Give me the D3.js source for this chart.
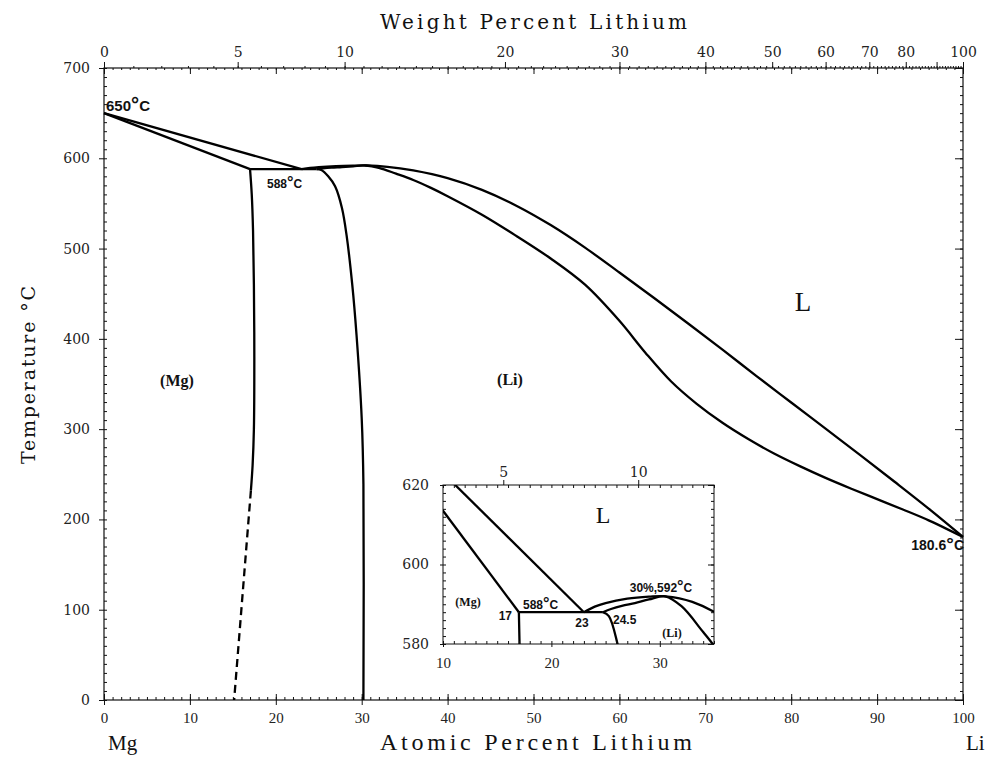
<!DOCTYPE html>
<html>
<head>
<meta charset="utf-8">
<script src="https://cdn.jsdelivr.net/npm/d3@7"></script>
<style>
  body { margin: 0; background: #fff; }
  svg { display: block; }
  .ax text { font-family: "DejaVu Serif", serif; fill: #222; }
  .ax path.domain { display: none; }
  .ax line { stroke: #111; stroke-width: 1; }
  .curve { fill: none; stroke: #000; stroke-width: 2.3; stroke-linejoin: round; }
  .lbl { font-family: "Liberation Sans", sans-serif; font-weight: bold; fill: #111; }
  .phase { font-family: "Liberation Serif", serif; font-weight: bold; fill: #111; }
  .ttl { font-family: "Liberation Serif", serif; fill: #111; }
</style>
</head>
<body>
<div id="chart"></div>
<script>
// Mg-Li phase diagram, x = atomic % Li, y = temperature in C
var liqMg = [[0, 650], [23, 588]];
var solMg = [[0, 650], [17, 588]];
var eutectic = [[17, 588], [24.75, 588]];
var liqLi = [[23, 588], [24, 589.4], [25, 590.3], [27, 591.4], [29, 591.9], [30.5, 592], [33, 590.6],
  [36, 586.5], [40, 578], [44, 565], [48, 547.5], [52, 526], [56, 501], [60, 473.5], [64, 445.5],
  [68, 417], [72, 388], [76, 358.5], [80, 329.5], [84, 300.5], [88, 271.5], [92, 242], [96, 212],
  [100, 180.6]];
var solLi = [[24.75, 588], [25.5, 588.8], [26.5, 589.6], [27.7, 590.3], [29, 591.2], [30.5, 592],
  [32, 589.5], [34, 583], [36, 576], [38, 567.5], [40, 558], [44, 537.5], [48, 514], [52, 489],
  [56, 460], [60, 420], [63, 385], [66, 353], [69, 328], [72, 307], [75, 289], [78, 273], [81, 259],
  [84, 246], [87, 234], [90, 222.5], [93, 211], [96, 199], [100, 180.6]];
var solvusMg = [[17, 588], [17.2, 560], [17.35, 520], [17.45, 460], [17.5, 380], [17.45, 300],
  [17.3, 260], [17.1, 232]];
var solvusMgDash = [[17.1, 232], [15.15, 0]];
var solvusLi = [[24.75, 588], [25.3, 587], [26.1, 580], [26.9, 569], [27.7, 545], [28.25, 514],
  [28.9, 460], [29.4, 404], [30, 312], [30.2, 239], [30.2, 0]];

var atTicks = [0, 10, 20, 30, 40, 50, 60, 70, 80, 90, 100];
var tempTicks = [0, 100, 200, 300, 400, 500, 600, 700];
var wtTicks = [0, 5, 10, 20, 30, 40, 50, 60, 70, 80, 90, 100];
var wtLabels = [0, 5, 10, 20, 30, 40, 50, 60, 70, 80, 100];
var insetAtTicks = [10, 20, 30];
var insetTempTicks = [580, 600, 620];
var insetWtTicks = [5, 10];

/* ----------------------------- setup ----------------------------- */
var width = 993, height = 762;
var svg = d3.select('#chart').append('svg')
  .attr('width', width).attr('height', height);

var x = d3.scaleLinear().domain([0, 100]).range([104, 963]);
var y = d3.scaleLinear().domain([0, 700]).range([700, 68]);

// weight % -> atomic % Li
var atFromWt = function(w) {
  var li = w / 6.941, mg = (100 - w) / 24.305;
  return 100 * li / (li + mg);
};
// piecewise linear scale for the weight percent axis
var wtKnots = d3.range(0, 100.01, 0.5);
var makeWt = function(sx) {
  return d3.scaleLinear().domain(wtKnots).range(wtKnots.map(function(w) { return sx(atFromWt(w)); }));
};
var xw = makeWt(x);

svg.append('rect')
  .attr('x', x(0)).attr('y', y(700))
  .attr('width', x(100) - x(0)).attr('height', y(0) - y(700))
  .attr('fill', 'none').attr('stroke', '#111').attr('stroke-width', 1.2);

function addAxis(g, axis, fontSize, family) {
  g.attr('class', 'ax').call(axis);
  g.selectAll('text').style('font-size', fontSize + 'px');
  if (family) g.selectAll('text').style('font-family', family);
  return g;
}

/* ----------------------------- main axes ----------------------------- */
addAxis(svg.append('g').attr('transform', 'translate(0,' + y(0) + ')'),
  d3.axisBottom(x).tickValues(atTicks).tickSize(5).tickPadding(7), 15, '"Liberation Serif", serif');
addAxis(svg.append('g').attr('transform', 'translate(0,' + y(0) + ')'),
  d3.axisTop(x).tickValues(d3.range(0, 101, 1)).tickSize(3).tickFormat(''), 10);
addAxis(svg.append('g').attr('transform', 'translate(0,' + y(0) + ')'),
  d3.axisTop(x).tickValues(atTicks).tickSize(6).tickFormat(''), 10);

addAxis(svg.append('g').attr('transform', 'translate(' + x(0) + ',0)'),
  d3.axisLeft(y).tickValues(tempTicks).tickSize(5).tickPadding(9), 14);
addAxis(svg.append('g').attr('transform', 'translate(' + x(0) + ',0)'),
  d3.axisRight(y).tickValues(d3.range(0, 701, 10)).tickSize(3).tickFormat(''), 10);

addAxis(svg.append('g').attr('transform', 'translate(' + x(100) + ',0)'),
  d3.axisLeft(y).tickValues(tempTicks).tickSize(8).tickFormat(''), 10);
addAxis(svg.append('g').attr('transform', 'translate(' + x(100) + ',0)'),
  d3.axisLeft(y).tickValues(d3.range(0, 701, 10)).tickSize(3).tickFormat(''), 10);

// top: atomic ticks inward, weight ticks outward
addAxis(svg.append('g').attr('transform', 'translate(0,' + y(700) + ')'),
  d3.axisBottom(x).tickValues(atTicks).tickSize(6).tickFormat(''), 10);
addAxis(svg.append('g').attr('transform', 'translate(0,' + y(700) + ')'),
  d3.axisBottom(x).tickValues(d3.range(0, 101, 1)).tickSize(2).tickFormat(''), 10);
addAxis(svg.append('g').attr('transform', 'translate(0,' + y(700) + ')'),
  d3.axisTop(xw).tickValues(d3.range(0, 101, 1)).tickSize(2).tickFormat(''), 10);
addAxis(svg.append('g').attr('transform', 'translate(0,' + y(700) + ')'),
  d3.axisTop(xw).tickValues(wtTicks).tickSize(6).tickPadding(5)
    .tickFormat(function(d) { return wtLabels.indexOf(d) >= 0 ? d : ''; }), 14);

/* ----------------------------- curves ----------------------------- */
function drawCurves(g, sx, sy) {
  var line = d3.line()
    .x(function(d) { return sx(d[0]); })
    .y(function(d) { return sy(d[1]); })
    .curve(d3.curveCatmullRom.alpha(0.5));
  [liqMg, solMg, eutectic, liqLi, solLi, solvusMg, solvusLi].forEach(function(data) {
    g.append('path').attr('class', 'curve').attr('d', line(data));
  });
  g.append('path').attr('class', 'curve')
    .attr('stroke-dasharray', '8,5')
    .attr('d', line(solvusMgDash));
}
drawCurves(svg.append('g'), x, y);

/* ----------------------------- main labels ----------------------------- */
function degLabel(g, px, py, num, size, anchor) {
  var t = g.append('text').attr('class', 'lbl')
    .attr('x', px).attr('y', py)
    .attr('text-anchor', anchor || 'start')
    .style('font-size', size + 'px');
  t.append('tspan').text(num);
  t.append('tspan').text('°').style('font-size', (size * 1.35) + 'px');
  t.append('tspan').text('C');
  return t;
}
degLabel(svg, 106, 111, '650', 15);
degLabel(svg, 267, 188, '588', 12);
degLabel(svg, 964, 550, '180.6', 14, 'end');

svg.append('text').attr('class', 'phase').attr('x', 177).attr('y', 386)
  .attr('text-anchor', 'middle').style('font-size', '16px').text('(Mg)');
svg.append('text').attr('class', 'phase').attr('x', 510).attr('y', 385)
  .attr('text-anchor', 'middle').style('font-size', '16px').text('(Li)');
svg.append('text').attr('class', 'ttl').attr('x', 803).attr('y', 311)
  .attr('text-anchor', 'middle').style('font-size', '27px').text('L');

// axis titles
svg.append('text').attr('class', 'ttl').attr('x', 380).attr('y', 29)
  .attr('textLength', 307).attr('lengthAdjust', 'spacing')
  .style('font-family', '"DejaVu Serif", serif').style('font-size', '20px')
  .text('Weight Percent Lithium');
svg.append('text').attr('class', 'ttl').attr('x', 380).attr('y', 750)
  .attr('textLength', 312).attr('lengthAdjust', 'spacing')
  .style('font-size', '24px').text('Atomic Percent Lithium');
svg.append('text').attr('class', 'ttl').attr('x', 108).attr('y', 750)
  .style('font-size', '21px').text('Mg');
svg.append('text').attr('class', 'ttl').attr('x', 966).attr('y', 750)
  .style('font-size', '21px').text('Li');
svg.append('text').attr('class', 'ttl')
  .attr('transform', 'translate(35,464) rotate(-90)')
  .attr('textLength', 178).attr('lengthAdjust', 'spacing')
  .style('font-family', '"DejaVu Serif", serif').style('font-size', '19px')
  .text('Temperature °C');

/* ----------------------------- inset ----------------------------- */
var ix = d3.scaleLinear().domain([10, 35]).range([443, 714]);
var iy = d3.scaleLinear().domain([580, 620]).range([644, 485]);
var ixw = makeWt(ix);

var inset = svg.append('g');
inset.append('rect').attr('x', ix(10)).attr('y', iy(620))
  .attr('width', ix(35) - ix(10)).attr('height', iy(580) - iy(620))
  .attr('fill', '#fff').attr('stroke', '#111').attr('stroke-width', 1);

svg.append('clipPath').attr('id', 'insetClip').append('rect')
  .attr('x', ix(10)).attr('y', iy(620))
  .attr('width', ix(35) - ix(10)).attr('height', iy(580) - iy(620));
drawCurves(inset.append('g').attr('clip-path', 'url(#insetClip)'), ix, iy);

addAxis(inset.append('g').attr('transform', 'translate(0,' + iy(580) + ')'),
  d3.axisBottom(ix).tickValues(insetAtTicks).tickSize(3).tickPadding(10), 15, '"Liberation Serif", serif');
addAxis(inset.append('g').attr('transform', 'translate(0,' + iy(580) + ')'),
  d3.axisTop(ix).tickValues(d3.range(10, 35.01, 1)).tickSize(3).tickFormat(''), 10);
addAxis(inset.append('g').attr('transform', 'translate(0,' + iy(620) + ')'),
  d3.axisBottom(ix).tickValues(d3.range(10, 35.01, 1)).tickSize(3).tickFormat(''), 10);
addAxis(inset.append('g').attr('transform', 'translate(0,' + iy(620) + ')'),
  d3.axisTop(ixw).tickValues(insetWtTicks).tickSize(5).tickPadding(3), 14);
addAxis(inset.append('g').attr('transform', 'translate(' + ix(10) + ',0)'),
  d3.axisLeft(iy).tickValues(insetTempTicks).tickSize(3).tickPadding(11), 14);
addAxis(inset.append('g').attr('transform', 'translate(' + ix(10) + ',0)'),
  d3.axisRight(iy).tickValues(d3.range(580, 620.01, 2)).tickSize(3).tickFormat(''), 10);
addAxis(inset.append('g').attr('transform', 'translate(' + ix(35) + ',0)'),
  d3.axisLeft(iy).tickValues(d3.range(580, 620.01, 2)).tickSize(3).tickFormat(''), 10);
addAxis(inset.append('g').attr('transform', 'translate(' + ix(35) + ',0)'),
  d3.axisLeft(iy).tickValues(insetTempTicks).tickSize(6).tickFormat(''), 10);

inset.append('text').attr('class', 'ttl').attr('x', 603).attr('y', 523).attr('text-anchor', 'middle')
  .style('font-size', '24px').text('L');
inset.append('text').attr('class', 'phase').attr('x', 468).attr('y', 606)
  .attr('text-anchor', 'middle').style('font-size', '12px').text('(Mg)');
inset.append('text').attr('class', 'phase').attr('x', 672).attr('y', 637)
  .attr('text-anchor', 'middle').style('font-size', '12px').text('(Li)');
inset.append('text').attr('class', 'lbl').attr('x', 512).attr('y', 620)
  .attr('text-anchor', 'end').style('font-size', '12px').text('17');
inset.append('text').attr('class', 'lbl').attr('x', 582).attr('y', 627)
  .attr('text-anchor', 'middle').style('font-size', '12px').text('23');
inset.append('text').attr('class', 'lbl').attr('x', 613).attr('y', 624)
  .style('font-size', '12px').text('24.5');
degLabel(inset, 523, 609, '588', 12);
degLabel(inset, 661, 592, '30%,592', 12, 'middle');
</script>
</body>
</html>
